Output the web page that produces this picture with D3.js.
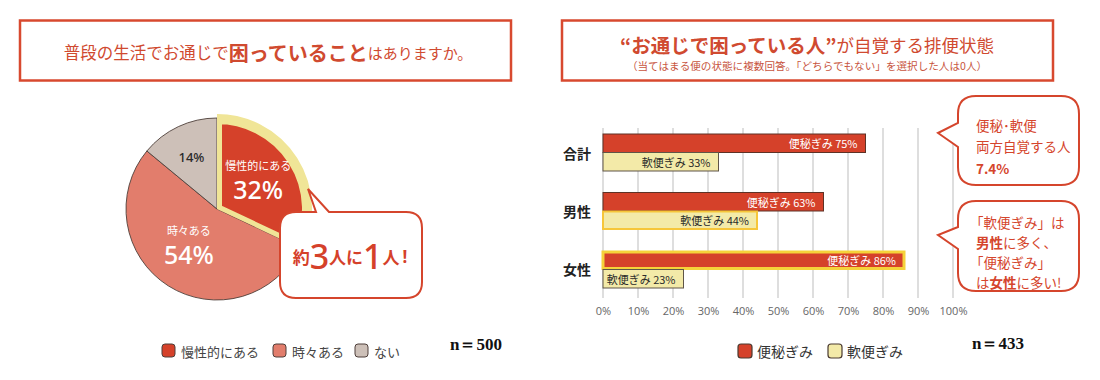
<!DOCTYPE html>
<html><head><meta charset="utf-8">
<script src="https://cdn.jsdelivr.net/npm/d3@7"></script>
<style>
html,body{margin:0;padding:0;background:#fff;}
svg{display:block;font-family:"Noto Sans CJK JP","Noto Sans",sans-serif;}
</style></head>
<body>
<svg id="c" width="1100" height="380"></svg>
<script>
// ---- data ----
const pieCategories = ["慢性的にある", "時々ある", "ない"];
const pieValues = [32, 54, 14];
const pieN = "n＝500";

const barGroups = ["合計", "男性", "女性"];
const barSeries = ["便秘ぎみ", "軟便ぎみ"];
const constipationValues = [75, 63, 86];
const diarrheaValues = [33, 44, 23];
const xTickValues = [0, 10, 20, 30, 40, 50, 60, 70, 80, 90, 100];
const barN = "n＝433";

// ---- styles ----
const RED = "#d5412a", SALMON = "#e27d6c", GRAY = "#cdc0b8";
const YEL = "#f3eaa8", HILITE = "#f0e597", TITLE = "#d04a30";
const pieColor = d3.scaleOrdinal().domain(pieCategories).range([RED, SALMON, GRAY]);
const barColor = d3.scaleOrdinal().domain(barSeries).range([RED, YEL]);

const svg = d3.select("#c");

// ================= LEFT PANEL =================
svg.append("rect").attr("x", 20).attr("y", 20.5).attr("width", 491).attr("height", 60)
  .attr("fill", "#fff").attr("stroke", "#d8492f").attr("stroke-width", 2.5);
const t1 = svg.append("text").attr("x", 268).attr("y", 52).attr("text-anchor", "middle")
  .attr("dominant-baseline", "central").attr("fill", TITLE);
t1.append("tspan").attr("font-size", 16.5).text("普段の生活でお通じで");
t1.append("tspan").attr("font-size", 20).attr("font-weight", 700).text("困っていること");
t1.append("tspan").attr("font-size", 15).text("はありますか。");

const cx = 217, cy = 209, R = 91;
const pie = d3.pie().sort(null).value(d => d)(pieValues);
const arc = d3.arc().innerRadius(0).outerRadius(R);
const g = svg.append("g").attr("transform", `translate(${cx},${cy})`);

const defs = svg.append("defs");
defs.append("clipPath").attr("id", "hclip").append("path")
  .attr("d", d3.arc().innerRadius(0).outerRadius(R + 5)(pie[0]));

g.selectAll("path.sl").data(pie.slice(1)).join("path").attr("class", "sl")
  .attr("d", arc).attr("fill", (d, i) => pieColor(pieCategories[i + 1]))
  .attr("stroke", "#4e3f3a").attr("stroke-width", 0.9);
g.append("path").attr("d", d3.arc().innerRadius(0).outerRadius(R - 1)(pie[0]))
  .attr("fill", pieColor(pieCategories[0]))
  .attr("stroke", HILITE).attr("stroke-width", 10).attr("stroke-linejoin", "miter")
  .attr("clip-path", "url(#hclip)");

// pie labels
const labelR = [50, 45, 60];
const labelDx = [-1, -4, 0];
pie.forEach((p, i) => {
  const [lx, ly] = d3.arc().innerRadius(labelR[i]).outerRadius(labelR[i]).centroid(p);
  const x = cx + lx + labelDx[i], y = cy + ly;
  if (i < 2) {
    svg.append("text").attr("x", x).attr("y", y - 17).attr("text-anchor", "middle")
      .attr("dominant-baseline", "central").attr("fill", "#fff").attr("font-size", 11)
      .text(pieCategories[i]);
    svg.append("text").attr("x", x).attr("y", y + 17).attr("text-anchor", "middle")
      .attr("fill", "#fff").attr("font-size", 25)
      .attr("font-family", "'Noto Sans',sans-serif").attr("font-weight", 500)
      .text(pieValues[i] + "%");
  } else {
    svg.append("text").attr("x", x).attr("y", y + 2).attr("text-anchor", "middle")
      .attr("dominant-baseline", "central").attr("fill", "#2a2a2a").attr("font-size", 13)
      .attr("font-family", "'Noto Sans',sans-serif").attr("font-weight", 500)
      .text(pieValues[i] + "%");
  }
});

function bubbleTop(x, y, w, h, r, tx1, tx2, tipx, tipy) {
  return `M${x + r},${y} L${tx1},${y} L${tipx},${tipy} L${tx2},${y} L${x + w - r},${y}
  Q${x + w},${y} ${x + w},${y + r} L${x + w},${y + h - r} Q${x + w},${y + h} ${x + w - r},${y + h}
  L${x + r},${y + h} Q${x},${y + h} ${x},${y + h - r} L${x},${y + r} Q${x},${y} ${x + r},${y} Z`;
}
function bubbleLeft(x, y, w, h, r, ty1, ty2, tipx, tipy) {
  return `M${x + r},${y} L${x + w - r},${y} Q${x + w},${y} ${x + w},${y + r}
  L${x + w},${y + h - r} Q${x + w},${y + h} ${x + w - r},${y + h} L${x + r},${y + h}
  Q${x},${y + h} ${x},${y + h - r} L${x},${ty2} L${tipx},${tipy} L${x},${ty1}
  L${x},${y + r} Q${x},${y} ${x + r},${y} Z`;
}
svg.append("path").attr("d", bubbleTop(280, 212, 142, 86, 16, 316, 329, 308, 189))
  .attr("fill", "#fff").attr("stroke", "#d5452c").attr("stroke-width", 2);
const ct = svg.append("text").attr("x", 350).attr("y", 256).attr("text-anchor", "middle")
  .attr("dominant-baseline", "central").attr("fill", RED).attr("font-weight", 700);
ct.append("tspan").attr("font-size", 17).text("約");
ct.append("tspan").attr("font-size", 34).attr("font-family", "'Noto Sans',sans-serif").attr("font-weight", 500).text("3");
ct.append("tspan").attr("font-size", 17).text("人に");
ct.append("tspan").attr("font-size", 34).attr("font-family", "'Noto Sans',sans-serif").attr("font-weight", 500).text("1");
ct.append("tspan").attr("font-size", 17).text("人");
ct.append("tspan").attr("font-size", 17).attr("font-family", "'Noto Sans',sans-serif").attr("dx", 3).text("!");

// left legend
const legX = [162, 273, 355];
pieCategories.forEach((c, i) => {
  svg.append("rect").attr("x", legX[i]).attr("y", 344).attr("width", 13).attr("height", 13)
    .attr("rx", 3).attr("fill", pieColor(c)).attr("stroke", "#4e3f3a").attr("stroke-width", 1);
  svg.append("text").attr("x", legX[i] + 19).attr("y", 351).attr("dominant-baseline", "central")
    .attr("font-size", 13).attr("fill", "#444").text(c);
});
svg.append("text").attr("x", 450).attr("y", 344).attr("dominant-baseline", "central")
  .attr("font-family", "'Liberation Serif','DejaVu Serif',serif").attr("font-weight", 700)
  .attr("font-size", 17).attr("fill", "#111").text(pieN);

// ================= RIGHT PANEL =================
svg.append("rect").attr("x", 562).attr("y", 20.5).attr("width", 491).attr("height", 60)
  .attr("fill", "#fff").attr("stroke", "#d8492f").attr("stroke-width", 2.5);
const t2 = svg.append("text").attr("x", 807).attr("y", 44).attr("text-anchor", "middle")
  .attr("dominant-baseline", "central").attr("fill", TITLE);
t2.append("tspan").attr("font-size", 19.5).attr("font-weight", 700).text("“お通じで困っている人”");
t2.append("tspan").attr("font-size", 17.5).text("が自覚する排便状態");
svg.append("text").attr("x", 807).attr("y", 65).attr("text-anchor", "middle")
  .attr("dominant-baseline", "central").attr("fill", "#c8553e").attr("font-size", 10.6)
  .text("（当てはまる便の状態に複数回答。「どちらでもない」を選択した人は0人）");

const x = d3.scaleLinear().domain([0, 100]).range([603, 953]);
const y = d3.scaleBand().domain(barGroups).range([134, 288]).paddingInner(0.3675).paddingOuter(0);
const ys = d3.scaleBand().domain(barSeries).range([0, y.bandwidth()]);

svg.append("g").selectAll("line").data(xTickValues).join("line")
  .attr("x1", d => x(d)).attr("x2", d => x(d)).attr("y1", 128).attr("y2", 298)
  .attr("stroke", "#bdbdbd").attr("stroke-width", 1);
const axis = svg.append("g").attr("transform", "translate(0,307)")
  .call(d3.axisBottom(x).tickValues(xTickValues).tickFormat(d => d + "%").tickSize(0).tickPadding(0));
axis.select(".domain").remove();
axis.selectAll("text").attr("font-size", 11).attr("fill", "#666")
  .attr("font-family", "'Open Sans','Noto Sans',sans-serif");

const rows = barGroups.map((gname, i) => ({ g: gname, v: [constipationValues[i], diarrheaValues[i]] }));
const strokeFor = (gi, si) => {
  if (gi === 2 && si === 0) return ["#f5d23a", 3];
  if (gi === 1 && si === 1) return ["#f6c63a", 2];
  return [si === 0 ? "#5e3226" : "#5f5548", 1];
};
rows.forEach((r, gi) => {
  barSeries.forEach((s, si) => {
    const [sc, sw] = strokeFor(gi, si);
    const by = y(r.g) + ys(s);
    svg.append("rect").attr("x", x(0)).attr("y", by + sw / 2 - 0.5)
      .attr("width", x(r.v[si]) - x(0)).attr("height", ys.bandwidth() - sw + 1)
      .attr("fill", barColor(s)).attr("stroke", sc).attr("stroke-width", sw);
    svg.append("text").attr("x", x(r.v[si]) - 8).attr("y", by + ys.bandwidth() / 2)
      .attr("text-anchor", "end").attr("dominant-baseline", "central")
      .attr("font-size", 11).attr("fill", si === 0 ? "#fff" : "#2a2a2a")
      .text(`${s} ${r.v[si]}%`);
  });
  svg.append("text").attr("x", 591).attr("y", y(r.g) + y.bandwidth() / 2)
    .attr("text-anchor", "end").attr("dominant-baseline", "central")
    .attr("font-size", 14).attr("font-weight", 700).attr("fill", "#222").text(r.g);
});

// right callouts
svg.append("path").attr("d", bubbleLeft(958, 96, 121, 89, 18, 123, 147, 938, 133))
  .attr("fill", "#fff").attr("stroke", "#d5452c").attr("stroke-width", 2);
svg.append("path").attr("d", bubbleLeft(958, 201, 121, 90, 18, 227, 249, 938, 235))
  .attr("fill", "#fff").attr("stroke", "#d5452c").attr("stroke-width", 2);
const cText = (yy, parts, dx) => {
  const t = svg.append("text").attr("x", 976 + (dx || 0)).attr("y", yy).attr("dominant-baseline", "central")
    .attr("font-size", 13.5).attr("fill", "#d5452c");
  parts.forEach(([s, b]) => t.append("tspan").attr("font-weight", b ? 700 : 400).text(s));
};
cText(125, [["便秘･軟便", 0]]);
cText(146, [["両方自覚する人", 0]]);
cText(168, [["7.4%", 1]]);
cText(222, [["「軟便ぎみ」は", 0]], -6);
cText(242, [["男性", 1], ["に多く、", 0]]);
cText(262, [["「便秘ぎみ」", 0]], -6);
cText(282, [["は", 0], ["女性", 1], ["に多い!", 0]]);

// right legend
const legX2 = [738, 828];
barSeries.forEach((s, i) => {
  svg.append("rect").attr("x", legX2[i]).attr("y", 344).attr("width", 14).attr("height", 14)
    .attr("rx", 3).attr("fill", barColor(s)).attr("stroke", "#4a3a30").attr("stroke-width", 1.2);
  svg.append("text").attr("x", legX2[i] + 19).attr("y", 351).attr("dominant-baseline", "central")
    .attr("font-size", 14).attr("fill", "#333").text(s);
});
svg.append("text").attr("x", 972).attr("y", 343).attr("dominant-baseline", "central")
  .attr("font-family", "'Liberation Serif','DejaVu Serif',serif").attr("font-weight", 700)
  .attr("font-size", 17).attr("fill", "#111").text(barN);
</script>
</body></html>
